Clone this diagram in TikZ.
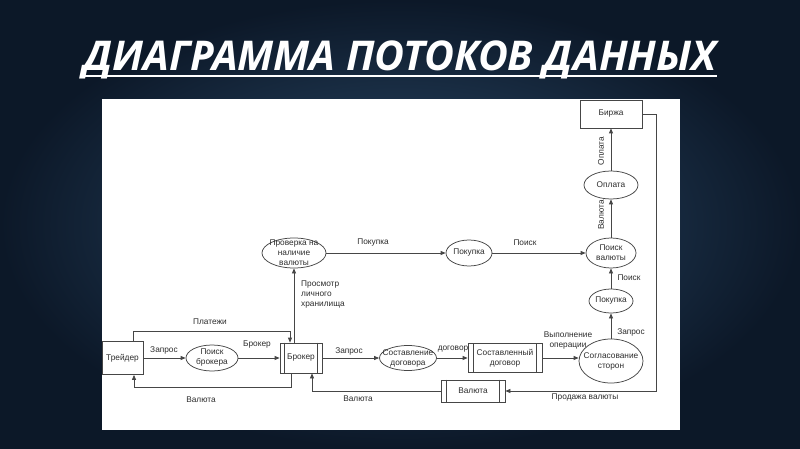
\documentclass[tikz,border=0pt]{standalone}
\usepackage{fontspec}
\setmainfont{Liberation Sans}
\newfontfamily\titlefont{Open Sans}
\usetikzlibrary{shapes.geometric,arrows.meta,calc}
\definecolor{bgin}{RGB}{44,76,108}
\definecolor{bgout}{RGB}{12,24,40}
\definecolor{lncol}{RGB}{70,70,70}
\definecolor{txcol}{RGB}{45,45,45}
\begin{document}
\begin{tikzpicture}[x=1pt,y=-1pt,
  txt/.style={font=\fontsize{8.3}{10}\selectfont, text=txcol, align=center, inner sep=0pt},
  box/.style={draw=lncol, line width=0.75pt, fill=white, rectangle, inner sep=0pt, txt},
  bub/.style={draw=lncol, line width=0.75pt, fill=white, ellipse, inner sep=0pt},
  wire/.style={draw=lncol, line width=0.75pt},
  flow/.style={wire, -{Triangle[length=5pt,width=4pt]}}
]
\useasboundingbox (0,0) rectangle (800,449);
\shade[inner color=bgin, outer color=bgout] (0,0) rectangle (800,449);
% title
\node[font=\titlefont\bfseries\itshape\fontsize{41}{44}\selectfont, text=white, inner sep=0pt, anchor=base] (title) at (400,71) {ДИАГРАММА ПОТОКОВ ДАННЫХ};
\draw[white, line width=2.2pt] ($(title.base west)+(0,5)$) -- ($(title.base east)+(0,5)$);
% panel
\fill[white] (102,99) rectangle (680,430);

% nodes
\node[box, minimum width=41pt, minimum height=33pt] (trader) at (122.5,358) {Трейдер};
\node[bub, minimum width=52pt, minimum height=26pt, label={[txt]center:Поиск\\брокера}] (pb) at (212,358) {};
\node[box, minimum width=42pt, minimum height=30pt] (broker) at (301,358) {Брокер};
\node[bub, minimum width=57pt, minimum height=25pt, label={[txt]center:Составление\\договора}] (sd) at (408,358) {};
\node[box, minimum width=74pt, minimum height=29pt] (sdog) at (505,358) {Составленный\\договор};
\node[bub, minimum width=64pt, minimum height=44pt, label={[txt]center:Согласование\\сторон}] (sogl) at (611,361) {};
\node[bub, minimum width=44pt, minimum height=24pt, label={[txt]center:Покупка}] (pk2) at (611,301) {};
\node[bub, minimum width=50pt, minimum height=30pt, label={[txt]center:Поиск\\валюты}] (pv) at (611,253) {};
\node[bub, minimum width=54pt, minimum height=28pt, label={[txt]center:Оплата}] (opl) at (611,185) {};
\node[box, minimum width=62pt, minimum height=28pt] (birzha) at (611,114) {Биржа};
\node[box, minimum width=64pt, minimum height=22pt] (valbox) at (473,391) {Валюта};
\node[bub, minimum width=64pt, minimum height=30pt, label={[txt]center:Проверка на\\наличие\\валюты}] (prov) at (294,253) {};
\node[bub, minimum width=46pt, minimum height=26pt, label={[txt]center:Покупка}] (pk1) at (469,253) {};

% data store bars
\draw[wire] ([xshift=5pt]broker.north west) -- ([xshift=5pt]broker.south west);
\draw[wire] ([xshift=-5pt]broker.north east) -- ([xshift=-5pt]broker.south east);
\draw[wire] ([xshift=6pt]sdog.north west) -- ([xshift=6pt]sdog.south west);
\draw[wire] ([xshift=-6pt]sdog.north east) -- ([xshift=-6pt]sdog.south east);
\draw[wire] ([xshift=6pt]valbox.north west) -- ([xshift=6pt]valbox.south west);
\draw[wire] ([xshift=-6pt]valbox.north east) -- ([xshift=-6pt]valbox.south east);

% connectors
\draw[flow] (trader.east) -- (pb.west);
\draw[flow] (pb.east) -- (broker.west);
\draw[flow] ([xshift=10.5pt]trader.north) -- ++(0,-10) -| ([xshift=-11pt]broker.north);
\draw[flow] ([xshift=-10pt]broker.south) -- ++(0,14) -| ([xshift=11.5pt]trader.south);
\draw[flow] ([xshift=-7pt]broker.north) -- (prov.south);
\draw[flow] (prov.east) -- (pk1.west);
\draw[flow] (pk1.east) -- (pv.west);
\draw[flow] (broker.east) -- (sd.west);
\draw[flow] (sd.east) -- (sdog.west);
\draw[flow] (sdog.east) -- (sdog.east -| sogl.west);
\draw[flow] (sogl.north) -- (pk2.south);
\draw[flow] (pk2.north) -- (pv.south);
\draw[flow] (pv.north) -- (opl.south);
\draw[flow] (opl.north) -- (birzha.south);
\draw[flow] (birzha.east) -- ++(14,0) |- (valbox.east);
\draw[flow] (valbox.west) -| ([xshift=11pt]broker.south);

% labels
\node[txt] (l1) at (164,350) {Запрос};
\node[txt] (l2) at (257,345) {Брокер};
\node[txt] (l3) at (210,322) {Платежи};
\node[txt] (l4) at (201,400) {Валюта};
\node[txt, align=left, anchor=north west] (l5) at (301,281) {Просмотр\\личного\\хранилища};
\node[txt] (l6) at (373,243) {Покупка};
\node[txt] (l7) at (525,243) {Поиск};
\node[txt] (l8) at (349,351) {Запрос};
\node[txt] (l9) at (453,349) {договор};
\node[txt] (l10) at (568,341) {Выполнение\\операции};
\node[txt] (l11) at (631,332) {Запрос};
\node[txt] (l12) at (629,278) {Поиск};
\node[txt, rotate=90] (l13) at (601,215) {Валюта};
\node[txt, rotate=90] (l14) at (601,151) {Оплата};
\node[txt] (l15) at (585,398) {Продажа валюты};
\node[txt] (l16) at (358,399) {Валюта};
\end{tikzpicture}
\end{document}
